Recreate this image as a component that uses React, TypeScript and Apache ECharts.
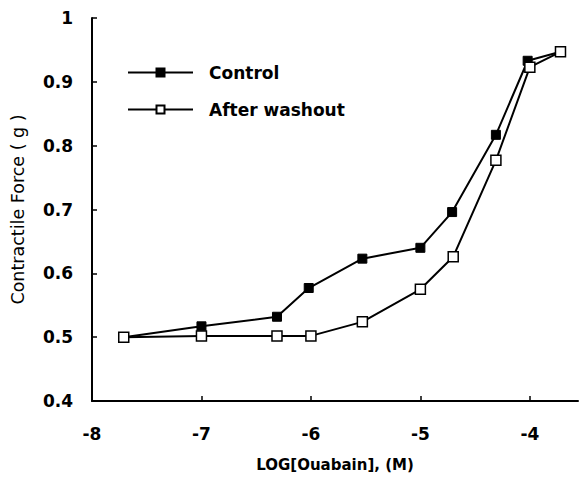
import React, { useEffect, useRef } from "react";
import * as echarts from "echarts";

const xControl = [-7.71, -7.0, -6.31, -6.02, -5.53, -5.0, -4.71, -4.31, -4.02, -3.72];
const yControl = [0.5, 0.517, 0.532, 0.577, 0.623, 0.64, 0.696, 0.817, 0.933, 0.947];
const xWashout = [-7.71, -7.0, -6.31, -6.0, -5.53, -5.0, -4.7, -4.31, -4.0, -3.72];
const yWashout = [0.5, 0.502, 0.502, 0.502, 0.524, 0.575, 0.626, 0.777, 0.923, 0.947];
const xTicks = [-8, -7, -6, -5, -4];

const FONT = "'DejaVu Sans', 'Liberation Sans', Arial, sans-serif";

export default function App() {
  const ref = useRef<HTMLDivElement>(null);
  useEffect(() => {
    document.body.style.margin = "0";
    if (!ref.current) return;
    const chart = echarts.init(ref.current, null, { renderer: "svg" });
    chart.setOption({
      animation: false,
      backgroundColor: "#ffffff",
      grid: { left: 92, right: 8, top: 18, bottom: 74 },
      legend: {
        orient: "vertical",
        left: 122,
        top: 59,
        itemWidth: 65,
        itemHeight: 10,
        itemGap: 20,
        textStyle: {
          fontFamily: FONT,
          fontWeight: "bold",
          fontSize: 17,
          color: "#000",
          padding: [0, 0, 0, 11],
        },
        data: ["Control", "After washout"],
      },
      xAxis: {
        type: "value",
        min: -8,
        max: -3.56,
        interval: 1,
        name: "LOG[Ouabain], (M)",
        nameLocation: "middle",
        nameGap: 56,
        nameTextStyle: { fontFamily: FONT, fontWeight: "bold", fontSize: 15, color: "#000" },
        axisLine: { lineStyle: { color: "#000", width: 2 } },
        axisTick: { inside: true, length: 5, lineStyle: { color: "#000", width: 1.5 }, customValues: xTicks },
        axisLabel: {
          customValues: xTicks,
          margin: 24,
          fontFamily: FONT,
          fontWeight: "bold",
          fontSize: 17,
          color: "#000",
        },
        splitLine: { show: false },
      },
      yAxis: {
        type: "value",
        min: 0.4,
        max: 1,
        interval: 0.1,
        name: "Contractile Force ( g )",
        nameLocation: "middle",
        nameGap: 65,
        nameTextStyle: { fontFamily: FONT, fontSize: 17.5, color: "#000" },
        axisLine: { show: true, lineStyle: { color: "#000", width: 2 } },
        axisTick: { show: true, inside: true, length: 5, lineStyle: { color: "#000", width: 1.5 } },
        axisLabel: {
          margin: 19,
          fontFamily: FONT,
          fontWeight: "bold",
          fontSize: 17,
          color: "#000",
          formatter: (v: number) => String(Math.round(v * 10) / 10),
        },
        splitLine: { show: false },
      },
      series: [
        {
          name: "Control",
          type: "line",
          data: xControl.map((x, i) => [x, yControl[i]]),
          symbol: "rect",
          symbolSize: 9,
          showAllSymbol: true,
          lineStyle: { color: "#000", width: 2 },
          itemStyle: { color: "#000", borderColor: "#000", borderWidth: 1 },
          z: 2,
        },
        {
          name: "After washout",
          type: "line",
          data: xWashout.map((x, i) => [x, yWashout[i]]),
          symbol: "rect",
          symbolSize: 10,
          showAllSymbol: true,
          lineStyle: { color: "#000", width: 2 },
          itemStyle: { color: "#fff", borderColor: "#000", borderWidth: 1.5 },
          z: 3,
        },
      ],
    });
    return () => chart.dispose();
  }, []);
  return <div ref={ref} style={{ width: 586, height: 477 }} />;
}
